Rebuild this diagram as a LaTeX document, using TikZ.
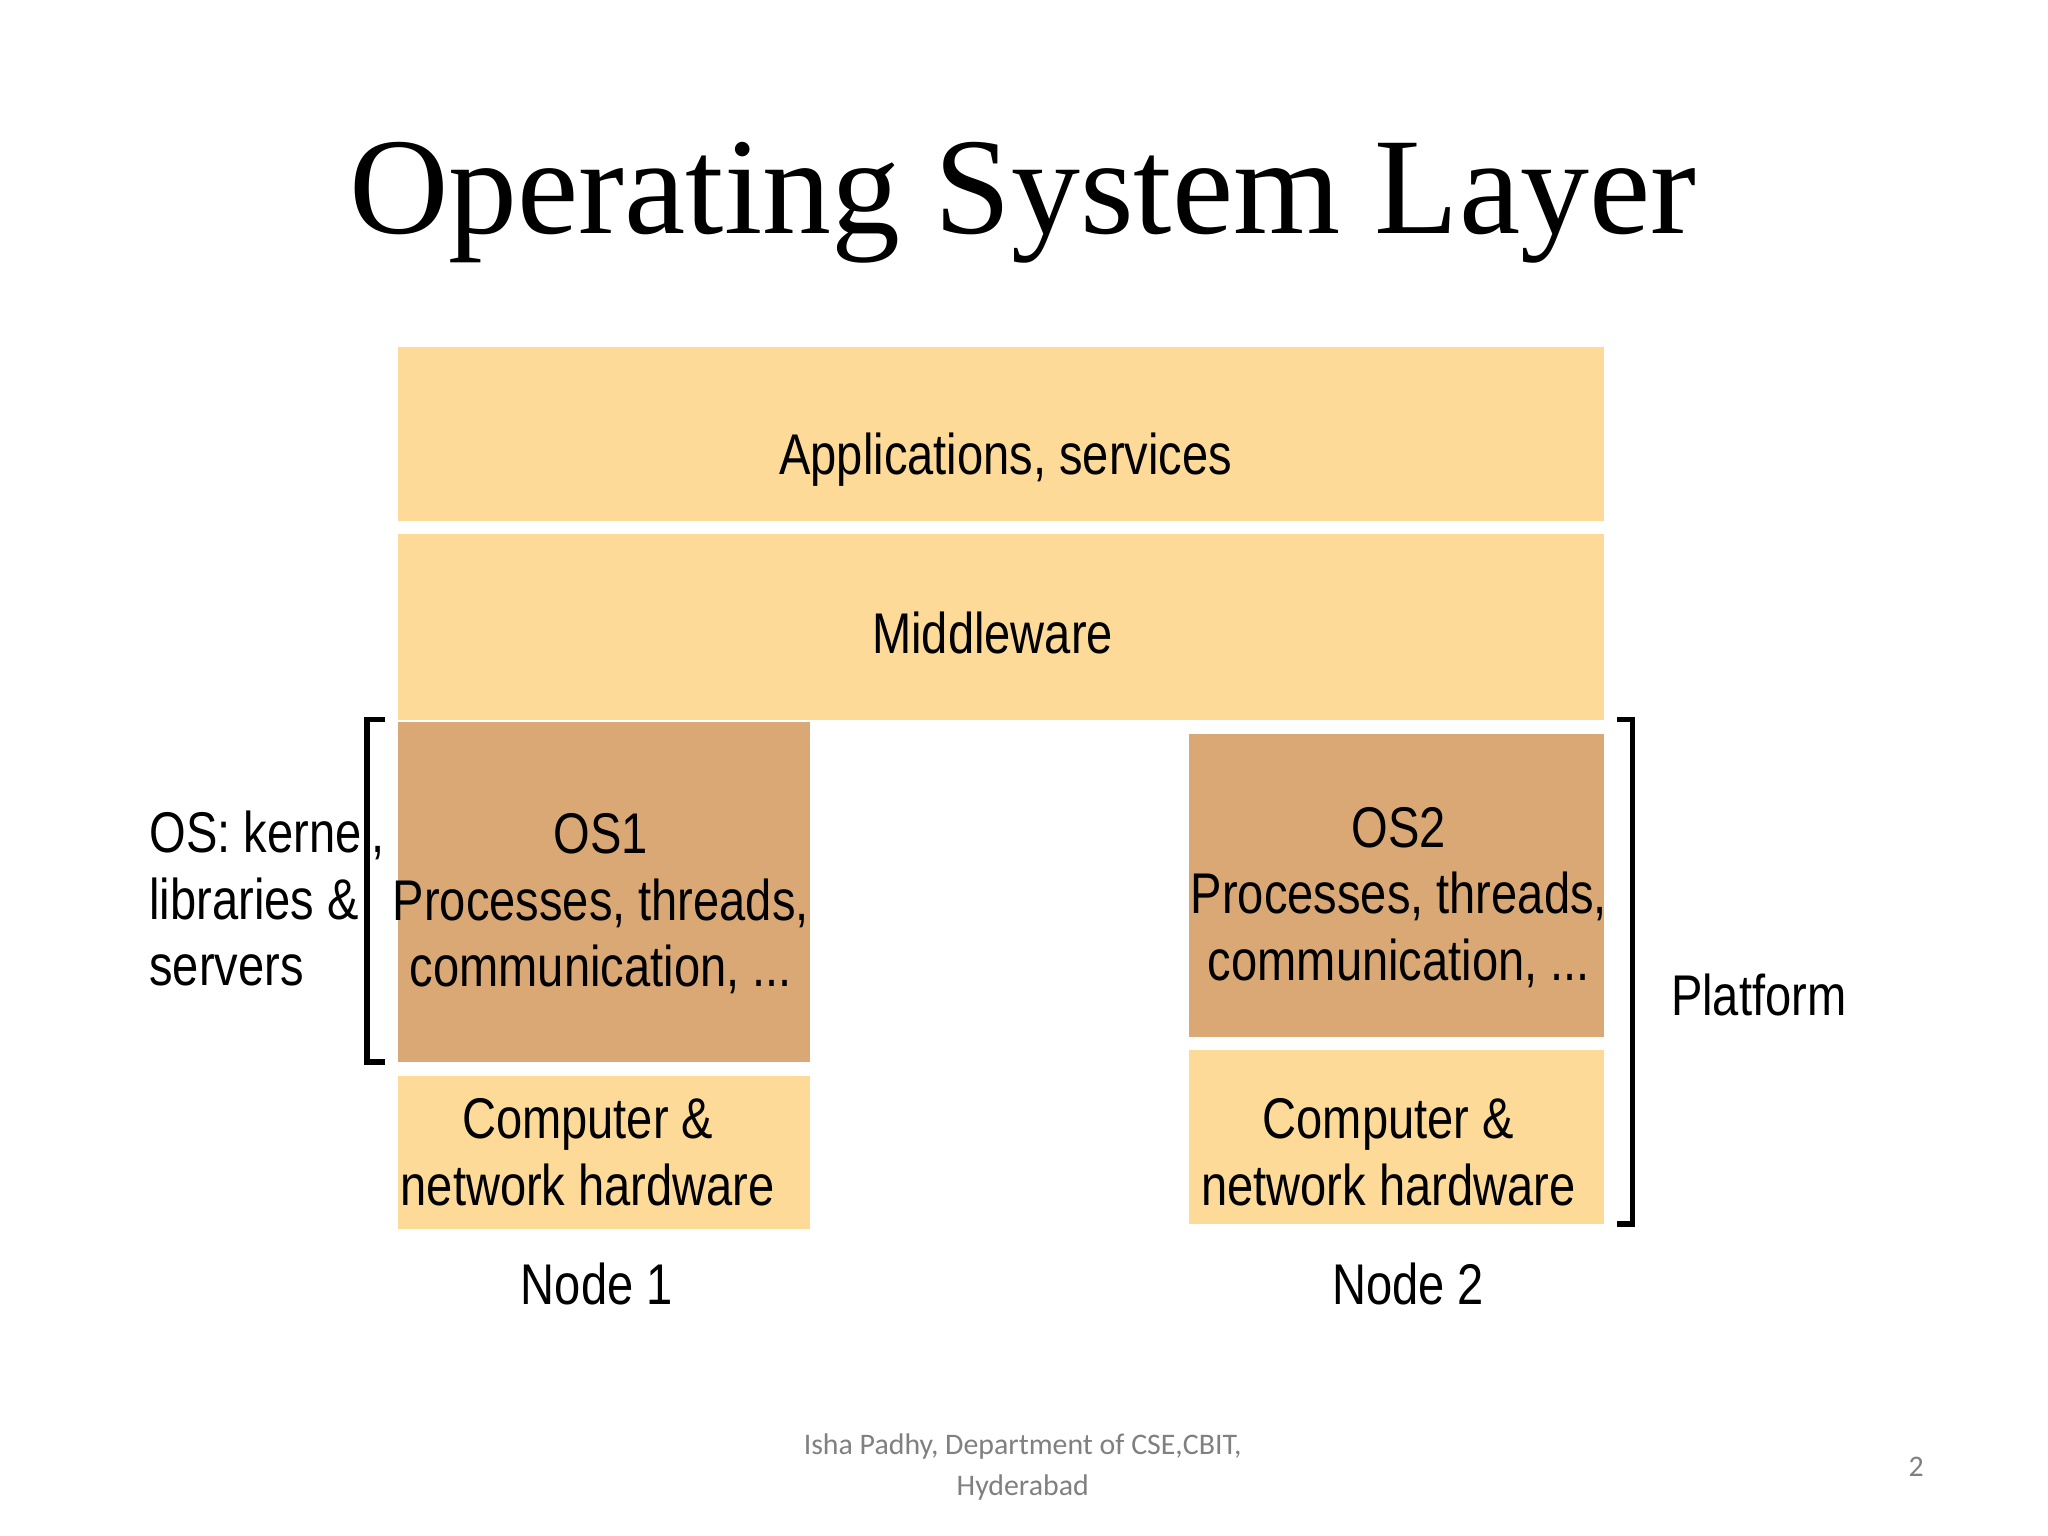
\documentclass[tikz,border=0pt]{standalone}
\usepackage{fontspec}
\setmainfont{Liberation Serif}
\newfontfamily\narrowfont[FakeStretch=0.82]{Liberation Sans}
\newfontfamily\footfont{Carlito}
\usetikzlibrary{positioning}
\definecolor{lightsand}{HTML}{FDDA98}
\definecolor{darksand}{HTML}{DAA874}
\begin{document}
\begin{tikzpicture}[x=0.01cm, y=-0.01cm]
\tikzstyle{layer}=[draw=none, fill=lightsand, inner sep=0pt]
\tikzstyle{oslayer}=[draw=none, fill=darksand, inner sep=0pt]
\tikzstyle{label}=[font=\narrowfont\fontsize{12.5pt}{14.5pt}\selectfont, align=center]
\tikzstyle{bracket}=[line width=1.2pt]
\useasboundingbox (0,0) rectangle (1568,1176);
\node (title) at (783,155) {\fontsize{30pt}{34pt}\selectfont Operating System Layer};

% layers
\fill[lightsand] (305,266) rectangle (1228,399);
\node[label] (apps) at (770,352) {Applications, services};
\fill[lightsand] (305,409) rectangle (1228,551);
\node[label] (mid) at (760,485) {Middleware};
\fill[darksand] (305,553) rectangle (620,813);
\node[label] (os1) at (460,692) {OS1\\Processes, threads,\\communication, ...};
\fill[lightsand] (305,824) rectangle (620,941);
\node[label] (hw1) at (450,882) {Computer \&\\network hardware};
\fill[darksand] (910,562) rectangle (1228,794);
\node[label] (os2) at (1071,687) {OS2\\Processes, threads,\\communication, ...};
\fill[lightsand] (910,804) rectangle (1228,937);
\node[label] (hw2) at (1063,882) {Computer \&\\network hardware};

% brackets
\coordinate (lt) at (295,551);
\coordinate (lb) at (295,813);
\draw[bracket] (lt) -- ++(-14,0) |- (lb);
\coordinate (rt) at (1238,551);
\coordinate (rb) at (1238,937);
\draw[bracket] (rt) -- ++(12,0) |- (rb);

\node[label, align=left, anchor=west] (oslbl) at (102,688) {OS: kernel,\\libraries \&\\servers};
\node[label, anchor=west] (plat) at (1267,762) {Platform};
\node[label] (n1) at (457,983) {Node 1};
\node[label] (n2) at (1078,983) {Node 2};

% footer
\node[font=\footfont\fontsize{6.5pt}{9pt}\selectfont, text=gray, align=center] (foot) at (783,1123) {Isha Padhy, Department of CSE,CBIT,\\Hyderabad};
\node[font=\footfont\fontsize{6.5pt}{9pt}\selectfont, text=gray] (pg) at (1467,1123) {2};
\end{tikzpicture}
\end{document}
